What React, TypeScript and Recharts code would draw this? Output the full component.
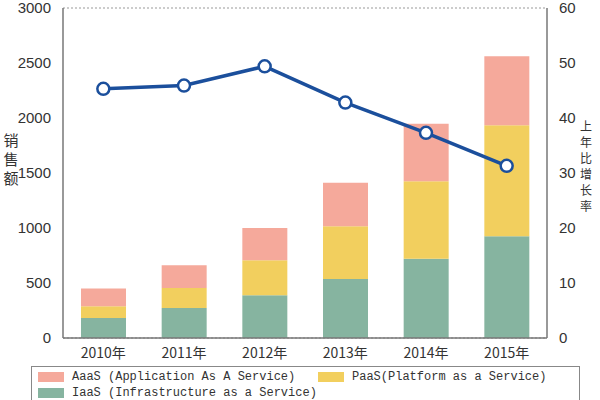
import { ComposedChart, Bar, Line, XAxis, YAxis, CartesianGrid, Label } from "recharts";

// 销售额 (stacked) and 上年比增长率 (%)
const years = ["2010年", "2011年", "2012年", "2013年", "2014年", "2015年"];
const iaas = [182, 273, 388, 536, 721, 924];
const paas = [106, 182, 318, 479, 703, 1009];
const aaas = [161, 206, 294, 397, 524, 628];
const growth = [45.3, 45.9, 49.4, 42.8, 37.3, 31.3];
const leftTicks = [0, 500, 1000, 1500, 2000, 2500, 3000];
const rightTicks = [0, 10, 20, 30, 40, 50, 60];

const legendItems = [
  { name: "AaaS (Application As A Service)", color: "#f5a99b" },
  { name: "PaaS(Platform as a Service)", color: "#f2cf5e" },
  { name: "IaaS (Infrastructure as a Service)", color: "#86b4a0" },
];

const data = years.map((year, i) => ({
  year,
  iaas: iaas[i],
  paas: paas[i],
  aaas: aaas[i],
  growth: growth[i],
}));

const tickFont = { fontSize: 15, fill: "#333", fontFamily: "Liberation Sans, Arial, sans-serif" };

function VerticalLabel({ text, x, y, size, step }: { text: string; x: number; y: number; size: number; step: number }) {
  return (
    <text x={x} fontSize={size} fill="#333" fontFamily="Noto Sans CJK SC" textAnchor="middle">
      {text.split("").map((ch, i) => (
        <tspan key={i} x={x} y={y + i * step}>
          {ch}
        </tspan>
      ))}
    </text>
  );
}

export default function App() {
  return (
    <div style={{ position: "absolute", left: 0, top: 0, width: 600, height: 400, background: "#fff", overflow: "hidden" }}>
      <ComposedChart width={600} height={400} data={data} margin={{ top: 8, right: 0, bottom: 32, left: 0 }}>
        <CartesianGrid vertical={false} stroke="#999" strokeDasharray="2 2" />
        <XAxis
          dataKey="year"
          height={30}
          tickLine={false}
          axisLine={{ stroke: "#777", strokeWidth: 1.5 }}
          tick={{ ...tickFont, fontSize: 14, fontFamily: "Noto Sans CJK SC" }}
          tickMargin={4}
        />
        <YAxis
          yAxisId="left"
          width={63}
          domain={[0, 3000]}
          ticks={leftTicks}
          interval={0}
          tickLine={false}
          axisLine={{ stroke: "#777", strokeWidth: 1.5 }}
          tick={tickFont}
          tickMargin={6}
        >
          <Label content={() => <VerticalLabel text="销售额" x={11} y={146} size={15} step={19} />} />
        </YAxis>
        <YAxis
          yAxisId="right"
          orientation="right"
          width={53}
          domain={[0, 60]}
          ticks={rightTicks}
          interval={0}
          tickLine={false}
          axisLine={{ stroke: "#777", strokeWidth: 1.5 }}
          tick={tickFont}
          tickMargin={6}
        >
          <Label content={() => <VerticalLabel text="上年比增长率" x={586} y={131} size={12} step={16} />} />
        </YAxis>
        <Bar yAxisId="left" dataKey="iaas" stackId="s" barSize={45} fill="#86b4a0" isAnimationActive={false} />
        <Bar yAxisId="left" dataKey="paas" stackId="s" barSize={45} fill="#f2cf5e" isAnimationActive={false} />
        <Bar yAxisId="left" dataKey="aaas" stackId="s" barSize={45} fill="#f5a99b" isAnimationActive={false} />
        <Line
          yAxisId="right"
          dataKey="growth"
          stroke="#1b4f9c"
          strokeWidth={3.5}
          dot={{ r: 6, fill: "#fff", stroke: "#1b4f9c", strokeWidth: 2.5 }}
          isAnimationActive={false}
        />
      </ComposedChart>
      {/* legend box, running off the bottom edge like the original */}
      <div
        style={{
          position: "absolute",
          left: 31,
          top: 366,
          width: 547,
          height: 40,
          border: "1px solid #888",
          fontFamily: "Liberation Mono, monospace",
          fontSize: 12,
          color: "#333",
        }}
      >
        {legendItems.map((item, i) => (
          <div
            key={item.name}
            style={{
              position: "absolute",
              left: i === 1 ? 286 : 6,
              top: i === 2 ? 19 : 3,
              display: "flex",
              alignItems: "center",
              whiteSpace: "nowrap",
            }}
          >
            <span style={{ display: "inline-block", width: 26, height: 10, background: item.color, marginRight: 8 }} />
            {item.name}
          </div>
        ))}
      </div>
    </div>
  );
}
